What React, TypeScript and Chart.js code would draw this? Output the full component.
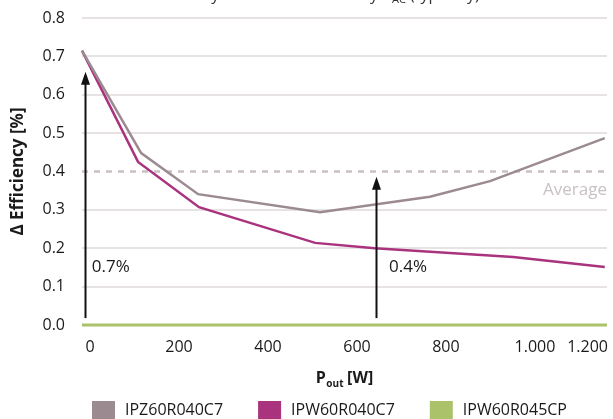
import React, { useEffect, useRef } from "react";
import { Chart, registerables } from "chart.js";

Chart.register(...registerables);

// ---- data ----
const seriesNames = ["IPZ60R040C7", "IPW60R040C7", "IPW60R045CP"];
const seriesColors = ["#9b8b90", "#a9337d", "#abc26b"];

const grayX = [-18, 115, 243, 517, 764, 899, 1157];
const grayY = [0.715, 0.448, 0.341, 0.294, 0.334, 0.375, 0.487];
const magentaX = [-18, 108, 245, 506, 640, 951, 1157];
const magentaY = [0.715, 0.425, 0.307, 0.214, 0.2, 0.177, 0.151];
const greenX = [-18, 1162];
const greenY = [0, 0];

const averageValue = 0.4;
const averageLabel = "Average";

const xTicks = [0, 200, 400, 600, 800, 1000, 1200];
const yTicks = [0, 0.1, 0.2, 0.3, 0.4, 0.5, 0.6, 0.7, 0.8];
const xMin = -18;
const xMax = 1162;

const arrowX = [-11, 643];
const arrowTop = [0.66, 0.386];
const arrowBottom = 0.018;
const arrowLabels = ["0.7%", "0.4%"];
const arrowLabelX = [4, 672];
const arrowLabelY = 0.15;

const yTitle = "Δ Efficiency [%]";
const xTitleMain = "P";
const xTitleSub = "out";
const xTitleRest = " [W]";
const topTitleA = "Δ Efficiency difference caused by R";
const topTitleSub = "AC";
const topTitleB = " (typically) at 25 °C";

const FONT = "'Open Sans', 'Noto Sans', sans-serif";

const fmtX = (v: number) =>
  v >= 1000 ? `${Math.floor(v / 1000)}.${String(v % 1000).padStart(3, "0")}` : String(v);

const toPts = (xs: number[], ys: number[]) => xs.map((x, i) => ({ x, y: ys[i] }));

const overlay = {
  id: "overlay",
  afterDatasetsDraw(chart: any) {
    const { ctx, chartArea, scales } = chart;
    const xs = scales.x;
    const ys = scales.y;
    ctx.save();
    // arrows
    ctx.strokeStyle = "#111";
    ctx.fillStyle = "#111";
    ctx.lineWidth = 2;
    arrowX.forEach((ax, i) => {
      const px = Math.round(xs.getPixelForValue(ax)) + 0.5;
      const top = ys.getPixelForValue(arrowTop[i]);
      const bot = ys.getPixelForValue(arrowBottom);
      ctx.beginPath();
      ctx.moveTo(px, bot);
      ctx.lineTo(px, top + 10);
      ctx.stroke();
      ctx.beginPath();
      ctx.moveTo(px, top);
      ctx.lineTo(px - 4.5, top + 13);
      ctx.lineTo(px + 4.5, top + 13);
      ctx.closePath();
      ctx.fill();
    });
    // arrow labels
    ctx.font = `17px ${FONT}`;
    ctx.textBaseline = "middle";
    ctx.textAlign = "left";
    ctx.fillStyle = "#1a1a1a";
    arrowLabels.forEach((t, i) => {
      ctx.fillText(t, xs.getPixelForValue(arrowLabelX[i]), ys.getPixelForValue(arrowLabelY));
    });
    // average label
    ctx.fillStyle = "#c9c1c5";
    ctx.textAlign = "right";
    ctx.fillText(averageLabel, chartArea.right, ys.getPixelForValue(0.352));
    ctx.restore();
  },
  afterDraw(chart: any) {
    const { ctx, chartArea, scales } = chart;
    const xs = scales.x;
    ctx.save();
    ctx.fillStyle = "#1a1a1a";
    // x tick labels that fall past the axis end: kept inside the canvas, right-aligned
    ctx.font = `16px ${FONT}`;
    ctx.textAlign = "right";
    ctx.textBaseline = "middle";
    xTicks
      .filter((v) => v > xs.max)
      .forEach((v) => {
        const t = fmtX(v);
        const w = ctx.measureText(t).width;
        const right = Math.min(xs.getPixelForValue(v) + w / 2, chartArea.right + 1);
        ctx.fillText(t, right, chartArea.bottom + 13 + 9.6);
      });
    // y title
    ctx.save();
    ctx.translate(18, (chartArea.top + chartArea.bottom) / 2);
    ctx.rotate(-Math.PI / 2);
    ctx.font = `bold 17px ${FONT}`;
    ctx.textAlign = "center";
    ctx.textBaseline = "middle";
    ctx.fillText(yTitle, 0, 0);
    ctx.restore();
    // x title with subscript
    const cx = (chartArea.left + chartArea.right) / 2;
    const by = 383;
    ctx.textBaseline = "alphabetic";
    ctx.textAlign = "left";
    ctx.font = `bold 16px ${FONT}`;
    const wP = ctx.measureText(xTitleMain).width;
    const wR = ctx.measureText(xTitleRest).width;
    ctx.font = `bold 10px ${FONT}`;
    const wS = ctx.measureText(xTitleSub).width;
    const x0 = cx - (wP + wS + wR) / 2;
    ctx.font = `bold 16px ${FONT}`;
    ctx.fillText(xTitleMain, x0, by);
    ctx.font = `bold 10px ${FONT}`;
    ctx.fillText(xTitleSub, x0 + wP + 0.5, by + 4);
    ctx.font = `bold 16px ${FONT}`;
    ctx.fillText(xTitleRest, x0 + wP + wS, by);
    // legend
    ctx.font = `16px ${FONT}`;
    const boxW = 23, boxH = 18, gap = 10, itemGap = 35;
    const widths = seriesNames.map((n) => boxW + gap + ctx.measureText(n).width);
    let lx = 92;
    const ly = 410;
    seriesNames.forEach((n, i) => {
      ctx.fillStyle = seriesColors[i];
      ctx.fillRect(lx, ly - boxH / 2, boxW, boxH);
      ctx.fillStyle = "#1a1a1a";
      ctx.textBaseline = "middle";
      ctx.textAlign = "left";
      ctx.fillText(n, lx + boxW + gap, ly);
      lx += widths[i] + itemGap;
    });
    // top title (cut off at the top edge)
    ctx.fillStyle = "#333";
    ctx.textBaseline = "alphabetic";
    ctx.font = `16px ${FONT}`;
    ctx.textAlign = "right";
    ctx.fillText(topTitleA, 392, 0);
    ctx.textAlign = "left";
    ctx.font = `11px ${FONT}`;
    ctx.fillText(topTitleSub, 392, 3);
    const ws = ctx.measureText(topTitleSub).width;
    ctx.font = `16px ${FONT}`;
    ctx.fillText(topTitleB, 392 + ws, 0);
    ctx.restore();
  },
};

export default function App() {
  const ref = useRef<HTMLCanvasElement>(null);
  useEffect(() => {
    document.body.style.margin = "0";
    const canvas = ref.current!;
    const chart = new Chart(canvas, {
      type: "line",
      data: {
        datasets: [
          {
            label: seriesNames[0],
            data: toPts(grayX, grayY),
            borderColor: seriesColors[0],
            borderWidth: 2.5,
            pointRadius: 0,
            order: 0,
            clip: 10,
          },
          {
            label: seriesNames[1],
            data: toPts(magentaX, magentaY),
            borderColor: seriesColors[1],
            borderWidth: 2.5,
            pointRadius: 0,
            order: 1,
            clip: 10,
          },
          {
            label: seriesNames[2],
            data: toPts(greenX, greenY),
            borderColor: seriesColors[2],
            borderWidth: 3,
            pointRadius: 0,
            order: 2,
            clip: 10,
          },
          {
            label: averageLabel,
            data: toPts([xMin, xMax], [averageValue, averageValue]),
            borderColor: "#c9c1c5",
            borderWidth: 2.5,
            borderDash: [6, 6],
            pointRadius: 0,
            order: 3,
            clip: 10,
          },
        ],
      },
      options: {
        animation: false,
        responsive: false,
        maintainAspectRatio: false,
        layout: { padding: { top: 18, left: 0, right: 6, bottom: 0 } },
        plugins: { legend: { display: false }, tooltip: { enabled: false } },
        scales: {
          x: {
            type: "linear",
            min: xMin,
            max: xMax,
            afterBuildTicks: (s: any) => {
              s.ticks = xTicks.filter((v) => v <= xMax).map((v) => ({ value: v }));
            },
            afterFit: (s: any) => {
              s.height = 94;
              s.paddingLeft = 0;
              s.paddingRight = 0;
            },
            grid: { display: false, drawTicks: false },
            border: { display: false },
            ticks: {
              padding: 13,
              maxRotation: 0,
              autoSkip: false,
              color: "#1a1a1a",
              font: { family: FONT, size: 16 },
              callback: (v: any) => fmtX(Number(v)),
            },
          },
          y: {
            type: "linear",
            min: 0,
            max: 0.8,
            afterBuildTicks: (s: any) => {
              s.ticks = yTicks.map((v) => ({ value: v }));
            },
            afterFit: (s: any) => {
              s.width = 82;
              s.paddingTop = 0;
              s.paddingBottom = 0;
            },
            grid: {
              drawTicks: false,
              lineWidth: 2,
              color: (c: any) =>
                c.tick && (Math.abs(c.tick.value - 0.4) < 1e-6 || c.tick.value === 0)
                  ? "rgba(0,0,0,0)"
                  : "#e7e2e4",
            },
            border: { display: false },
            ticks: {
              padding: 17,
              color: "#1a1a1a",
              font: { family: FONT, size: 16 },
              callback: (v: any) => Number(v).toFixed(1),
            },
          },
        },
      },
      plugins: [overlay],
    });
    return () => chart.destroy();
  }, []);
  return (
    <canvas
      ref={ref}
      width={613}
      height={419}
      style={{ display: "block", width: 613, height: 419 }}
    />
  );
}
